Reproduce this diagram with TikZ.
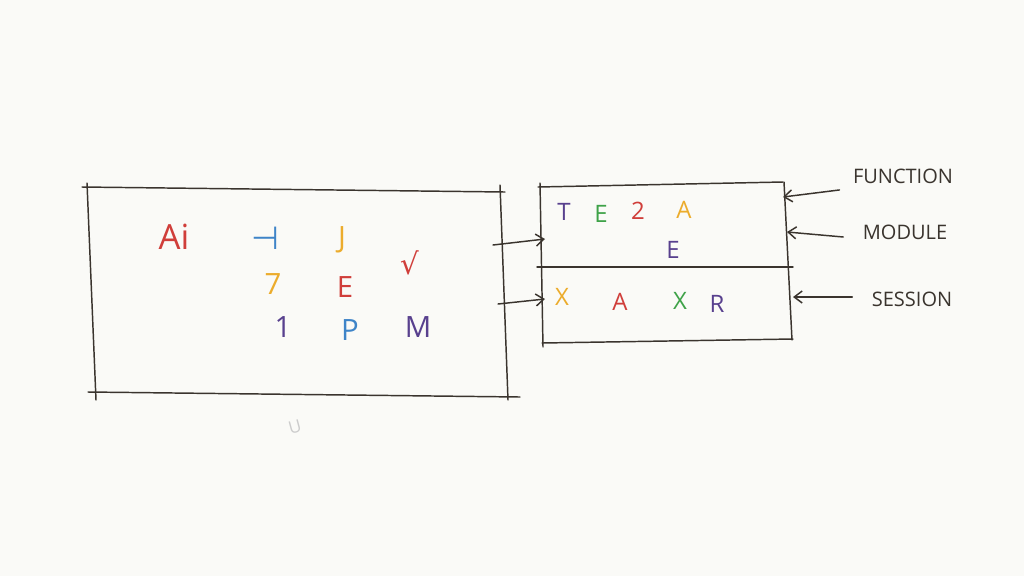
\documentclass[tikz,border=0pt]{standalone}
\usepackage{fontspec}
\setmainfont{Open Sans}
\newfontfamily\symfont{DejaVu Sans}
\usetikzlibrary{arrows.meta}
\definecolor{paper}{RGB}{250,250,247}
\definecolor{penc}{RGB}{58,52,46}
\definecolor{cred}{RGB}{208,62,58}
\definecolor{cblue}{RGB}{62,132,200}
\definecolor{corange}{RGB}{236,172,44}
\definecolor{cpurple}{RGB}{88,64,142}
\definecolor{cgreen}{RGB}{62,162,72}
\begin{document}
\begin{tikzpicture}
    [   x=0.75pt,y=-0.75pt,
        pen/.style={draw=penc,line width=1.1pt,line cap=round},
        arr/.style={pen,-{Straight Barb[length=6pt,width=9pt]}},
        glyph/.style={text=#1,font=\fontsize{22}{22}\selectfont,inner sep=0pt},
        small/.style={text=#1,font=\fontsize{18}{18}\selectfont,inner sep=0pt},
        tag/.style={text=penc,font=\fontsize{15}{15}\selectfont,inner sep=1pt},
    ]
        \fill[paper] (0,0) rectangle (1024,576);
        % left box
        \draw[pen] (82,187) -- (505,192);
        \draw[pen] (87,183) -- (96,400);
        \draw[pen] (500,185) -- (508,400);
        \draw[pen] (88,392) -- (520,397);
        % right box
        \draw[pen] (538,187) -- (783,182);
        \draw[pen] (540,183) -- (543,347);
        \draw[pen] (784,182) -- (792,340);
        \draw[pen] (537,267) -- (793,267);
        \draw[pen] (542,343) -- (793,339);
        % left box text
        \node[glyph=cred,font=\fontsize{26}{26}\selectfont] (ai) at (174,237) {Ai};
        \foreach \t/\c/\x/\y/\n in {{\symfont\fontsize{24}{24}\selectfont ⊣}/cblue/265/238/a, J/corange/342/240/b,
            {\symfont √}/cred/410/263/c, 7/corange/273/284/d, E/cred/345/287/e,
            1/cpurple/283/327/f, P/cblue/350/330/g, M/cpurple/418/327/h}
        {   \node[glyph=\c] (l-\n) at (\x,\y) {\t};
        }
        \node[text=black!20,font=\fontsize{13}{13}\selectfont,rotate=15] (mark) at (295,427) {U};
        % right box text
        \foreach \t/\c/\x/\y/\n in {T/cpurple/564/212/a, E/cgreen/601/214/b, 2/cred/638/211/c,
            A/corange/684/210/d, E/cpurple/673/250/e, X/corange/562/297/f,
            A/cred/620/302/g, X/cgreen/680/301/h, R/cpurple/717/304/i}
        {   \node[small=\c] (r-\n) at (\x,\y) {\t};
        }
        % arrows between boxes
        \coordinate (f1) at (493,245);
        \coordinate (t1) at (545,239);
        \coordinate (f2) at (498,304);
        \coordinate (t2) at (545,299);
        \draw[arr] (f1) -- (t1);
        \draw[arr] (f2) -- (t2);
        % labels
        \node[tag] (fn) at (903,176) {FUNCTION};
        \node[tag] (mod) at (905,232) {MODULE};
        \node[tag] (ses) at (912,299) {SESSION};
        \coordinate (pf) at (783,197);
        \coordinate (pm) at (787,232);
        \coordinate (ps) at (793,297);
        \draw[arr] (fn.south west) ++(-12,5) coordinate (qf) (qf) -- (pf);
        \draw[arr] (mod.west) ++(-18,5) coordinate (qm) (qm) -- (pm);
        \draw[arr] (ses.west) ++(-18,-2) coordinate (qs) (qs) -- (ps);
    \end{tikzpicture}
\end{document}
